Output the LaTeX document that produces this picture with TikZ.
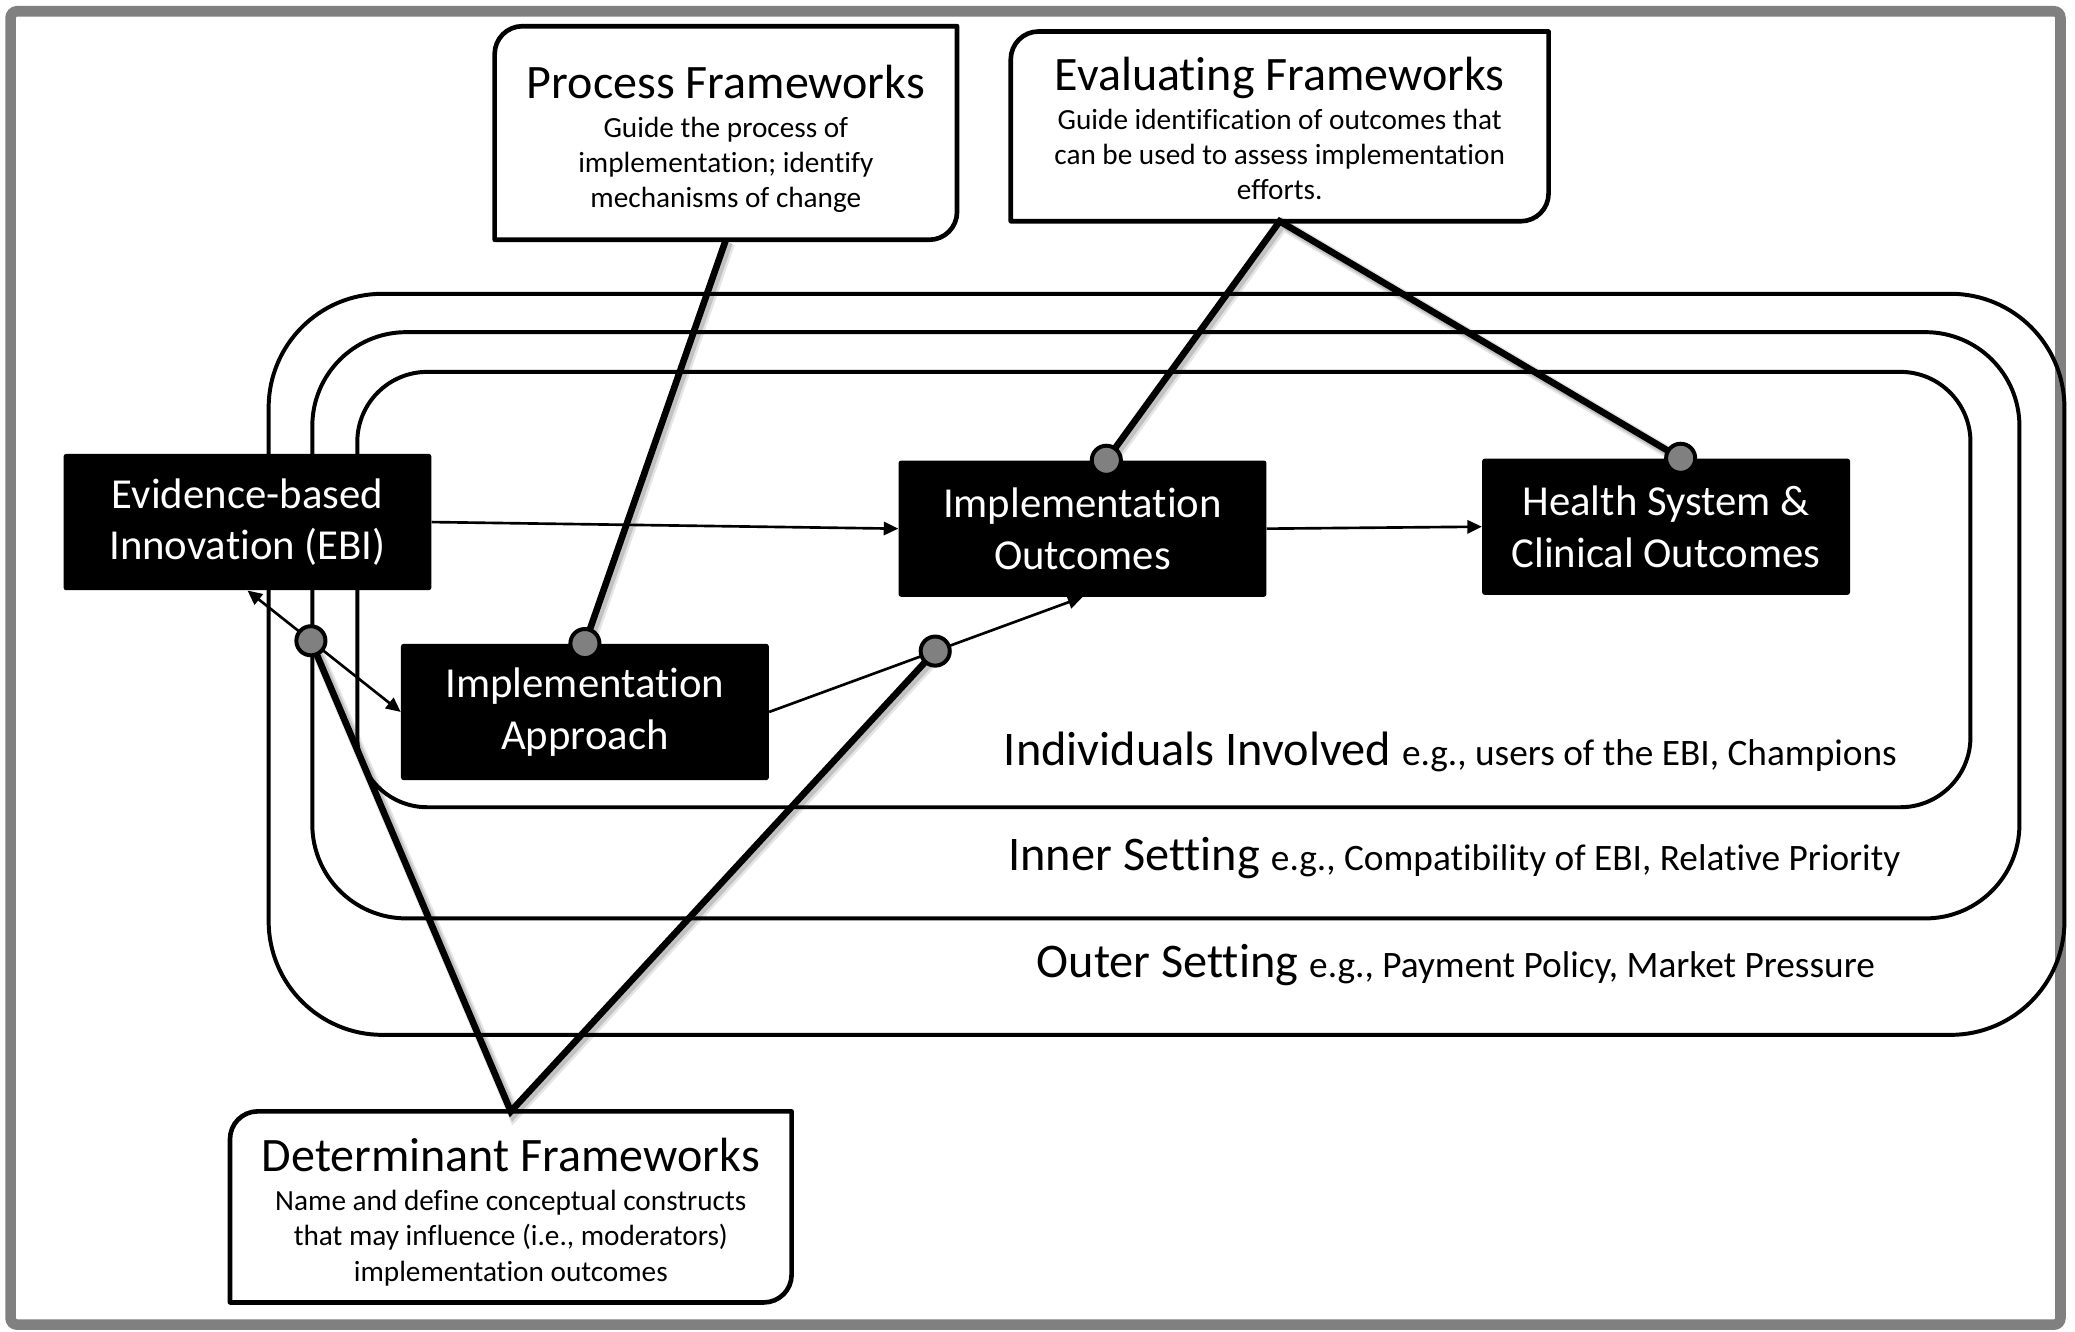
\documentclass[tikz,border=0pt]{standalone}
\usepackage{fontspec}
\setmainfont{Carlito}[Ligatures=NoCommon]
\usetikzlibrary{arrows.meta,calc}
\pgfdeclarelayer{front}
\pgfsetlayers{main,front}
\definecolor{midgray}{RGB}{128,128,128}

% outline with rounded top-left and bottom-right corners
\newcommand\fwoutline[1]{%
  \draw[fwline] ($(#1.north west)+(0,21)$)
    .. controls ($(#1.north west)+(0,9.4)$) and ($(#1.north west)+(9.4,0)$) .. ($(#1.north west)+(21,0)$)
    -- (#1.north east) -- ($(#1.south east)+(0,-21)$)
    .. controls ($(#1.south east)+(0,-9.4)$) and ($(#1.south east)+(-9.4,0)$) .. ($(#1.south east)+(-21,0)$)
    -- (#1.south west) -- cycle;}

\tikzset{
  frame/.style={draw=midgray, line width=8pt, rounded corners=5pt},
  setting/.style={draw=black, line width=3pt},
  blackbox/.style={fill=black, text=white, rounded corners=2pt, minimum width=278pt,
    minimum height=103pt, align=center, inner sep=0pt,
    font=\fontsize{32.3}{39}\selectfont},
  fwbox/.style={inner sep=0pt},
  fwline/.style={line width=3.5pt, line join=round},
  fwtitle/.style={font=\fontsize{36.3}{42}\selectfont, anchor=base, inner sep=0pt},
  fwbody/.style={font=\fontsize{22.1}{26.5}\selectfont, align=center, anchor=base, inner sep=0pt},
  settinglabel/.style={anchor=base, inner sep=0pt},
  shadowed/.style={
    preaction={draw=black, draw opacity=0.10, line width=9pt, transform canvas={shift={(2.5pt,-2.5pt)}}},
    preaction={draw=black, draw opacity=0.15, line width=6.5pt, transform canvas={shift={(2pt,-2pt)}}}},
  link/.style={line width=5pt, line join=miter, shadowed},
  flow/.style={line width=2pt, -{Triangle[length=11pt,width=10pt]}},
  biflow/.style={line width=2pt, {Triangle[length=11pt,width=10pt]}-{Triangle[length=11pt,width=10pt]}},
  dot/.style={circle, draw=black, fill=midgray, line width=3pt, minimum size=22pt, inner sep=0pt},
}
\newcommand\bigpart{\fontsize{36.5}{42}\selectfont}
\newcommand\smallpart{\fontsize{28.2}{33}\selectfont}

\begin{document}
\begin{tikzpicture}[x=1pt, y=-1pt]
\useasboundingbox (0,0) rectangle (1568,1006);
\fill[white] (0,0) rectangle (1568,1006);

% page frame
\draw[frame] (8,8.5) rectangle (1557,1001);

% nested settings
\draw[setting, rounded corners=86pt] (203,222) rectangle (1560,782);
\draw[setting, rounded corners=71pt] (236,251) rectangle (1526,694);
\draw[setting, rounded corners=53pt] (270,281) rectangle (1489,610);

% setting labels
\node[settinglabel] (lind) at (1096,578.5) {\bigpart Individuals Involved \smallpart e.g., users of the EBI, Champions};
\node[settinglabel] (linn) at (1099,657.5) {\bigpart Inner Setting \smallpart e.g., Compatibility of EBI, Relative Priority};
\node[settinglabel] (lout) at (1100,738.5) {\bigpart Outer Setting \smallpart e.g., Payment Policy, Market Pressure};

% main boxes
\node[blackbox] (ebi) at (187,394.5) {Evidence-based\\Innovation (EBI)};
\node[blackbox] (io)  at (818,399.5) {Implementation\\Outcomes};
\node[blackbox] (hs)  at (1259,398) {Health System \&\\Clinical Outcomes};
\node[blackbox] (iap) at (442,538) {Implementation\\Approach};

% framework boxes
\node[fwbox, minimum width=349pt, minimum height=161pt] (pf) at (548.5,100.5) {};
\node[fwbox, minimum width=406pt, minimum height=143pt] (ef) at (967,95.5) {};
\node[fwbox, minimum width=424pt, minimum height=144pt] (df) at (386,912) {};
\fwoutline{pf}
\fwoutline{ef}
\fwoutline{df}

\node[fwtitle] (pft) at (548.5,74.5) {Process Frameworks};
\node[fwbody]  (pfb) at (548.5,157) {Guide the process of\\implementation; identify\\mechanisms of change};
\node[fwtitle] (eft) at (967,68.5) {Evaluating Frameworks};
\node[fwbody]  (efb) at (967,151) {Guide identification of outcomes that\\can be used to assess implementation\\efforts.};
\node[fwtitle] (dft) at (386,885.5) {Determinant Frameworks};
\node[fwbody]  (dfb) at (386,968) {Name and define conceptual constructs\\that may influence (i.e., moderators)\\implementation outcomes};

% attachment points
\begin{pgfonlayer}{front}
\node[dot] (dIA) at (iap.north) {};
\node[dot] (dIO) at ($(io.north)+(18,0)$) {};
\node[dot] (dHS) at ($(hs.north)+(11,0)$) {};
\node[dot] (dEA) at ($(ebi.south)!0.414!(iap.west)$) {};
\node[dot] (dAO) at ($(iap.east)!0.53!(io.south)$) {};
\end{pgfonlayer}

% flows
\draw[flow] (ebi.east) -- (io.west);
\draw[flow] (io.east) -- (hs.west);
\draw[flow] (iap.east) -- (io.south);
\draw[biflow] (ebi.south) -- (iap.west);

% framework links
\draw[link] (pf.south) -- (dIA.center);
\draw[link] (dIO.center) -- (ef.south) -- (dHS.center);
\draw[link] (dEA.center) -- (df.north) -- (dAO.center);
\end{tikzpicture}
\end{document}
